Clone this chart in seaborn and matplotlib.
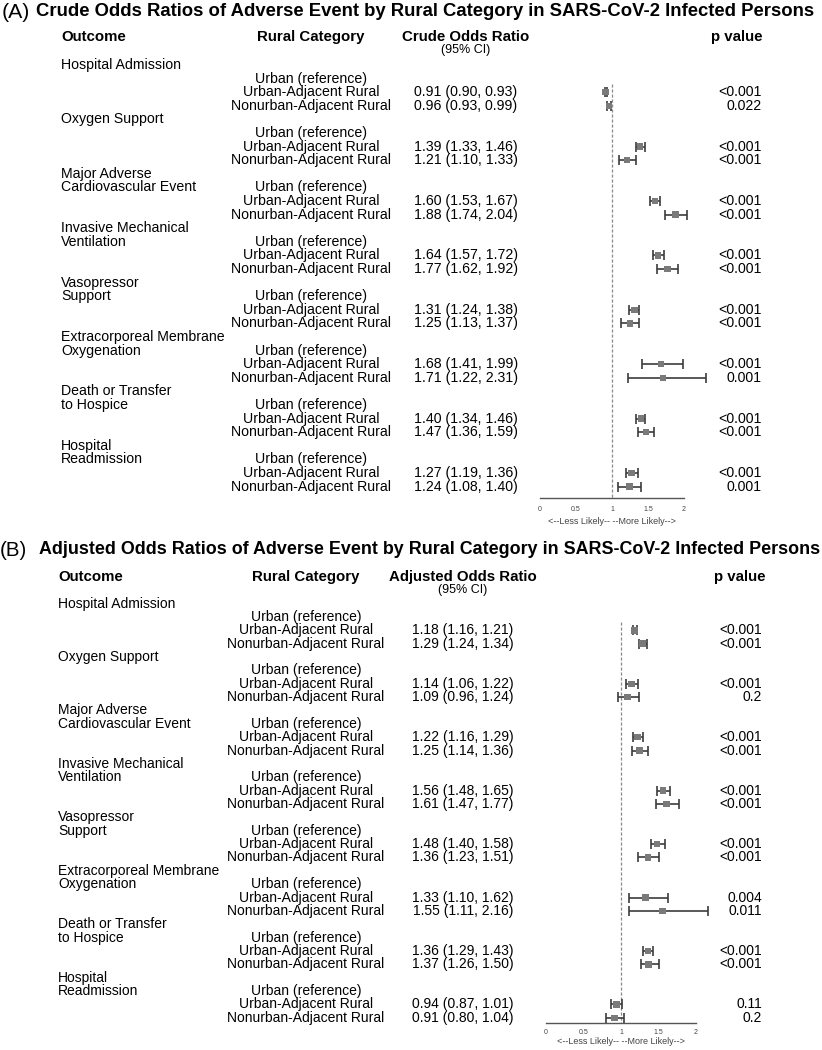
import matplotlib
matplotlib.use("Agg")
import matplotlib.pyplot as plt
import matplotlib.transforms as mtransforms
from matplotlib import font_manager
import pandas as pd
import seaborn as sns

# data
outcomes = [
    "Hospital Admission",
    "Oxygen Support",
    "Major Adverse\nCardiovascular Event",
    "Invasive Mechanical\nVentilation",
    "Vasopressor\nSupport",
    "Extracorporeal Membrane\nOxygenation",
    "Death or Transfer\nto Hospice",
    "Hospital\nReadmission",
]
categories = ["Urban (reference)", "Urban-Adjacent Rural", "Nonurban-Adjacent Rural"]

# crude odds ratios: Urban-Adjacent Rural / Nonurban-Adjacent Rural
crude_uar = [0.91, 1.39, 1.60, 1.64, 1.31, 1.68, 1.40, 1.27]
crude_uar_lo = [0.90, 1.33, 1.53, 1.57, 1.24, 1.41, 1.34, 1.19]
crude_uar_hi = [0.93, 1.46, 1.67, 1.72, 1.38, 1.99, 1.46, 1.36]
crude_uar_p = ["<0.001", "<0.001", "<0.001", "<0.001", "<0.001", "<0.001", "<0.001", "<0.001"]
crude_nar = [0.96, 1.21, 1.88, 1.77, 1.25, 1.71, 1.47, 1.24]
crude_nar_lo = [0.93, 1.10, 1.74, 1.62, 1.13, 1.22, 1.36, 1.08]
crude_nar_hi = [0.99, 1.33, 2.04, 1.92, 1.37, 2.31, 1.59, 1.40]
crude_nar_p = ["0.022", "<0.001", "<0.001", "<0.001", "<0.001", "0.001", "<0.001", "0.001"]

# adjusted odds ratios
adj_uar = [1.18, 1.14, 1.22, 1.56, 1.48, 1.33, 1.36, 0.94]
adj_uar_lo = [1.16, 1.06, 1.16, 1.48, 1.40, 1.10, 1.29, 0.87]
adj_uar_hi = [1.21, 1.22, 1.29, 1.65, 1.58, 1.62, 1.43, 1.01]
adj_uar_p = ["<0.001", "<0.001", "<0.001", "<0.001", "<0.001", "0.004", "<0.001", "0.11"]
adj_nar = [1.29, 1.09, 1.25, 1.61, 1.36, 1.55, 1.37, 0.91]
adj_nar_lo = [1.24, 0.96, 1.14, 1.47, 1.23, 1.11, 1.26, 0.80]
adj_nar_hi = [1.34, 1.24, 1.36, 1.77, 1.51, 2.16, 1.50, 1.04]
adj_nar_p = ["<0.001", "0.2", "<0.001", "<0.001", "<0.001", "0.011", "<0.001", "0.2"]

xticks = [0, 0.5, 1, 1.5, 2]


def has_font(name):
    try:
        font_manager.findfont(name, fallback_to_default=False)
        return True
    except ValueError:
        return False


sns.set_style("white")
plt.rcParams["font.family"] = ["Liberation Sans", "DejaVu Sans"]
plt.rcParams["text.color"] = "black"
narrow = "Liberation Sans Narrow" if has_font("Liberation Sans Narrow") else "Liberation Sans"

W, H = 822, 1050
fig = plt.figure(figsize=(W / 100, H / 100), dpi=100)
renderer = fig.canvas.get_renderer()


def fx(px):
    return px / W


def fy(px):
    return 1 - px / H


def fit_text(x0, x1, ypx, s, **kw):
    # place text starting at x0 and scale the font so it ends at x1
    t = fig.text(fx(x0), fy(ypx), s, ha="left", va="center", **kw)
    w = t.get_window_extent(renderer).width
    t.set_fontsize(t.get_fontsize() * (x1 - x0) / w)
    return t


def make_df(est, lo, hi, p, n):
    rows = []
    for g in range(n):
        rows.append((4 * g + 2, est[0][g], lo[0][g], hi[0][g], p[0][g]))
        rows.append((4 * g + 3, est[1][g], lo[1][g], hi[1][g], p[1][g]))
    return pd.DataFrame(rows, columns=["row", "est", "lo", "hi", "p"])


def panel(letter, title, or_head, df, lay):
    row0, step, axis_px = lay["row0"], lay["step"], lay["axis"]
    x0px, scale = lay["x0"], lay["scale"]
    xlo, xhi = -0.1, lay["xhi"]
    top_px = row0 - 0.7 * step
    left = x0px + xlo * scale
    right = x0px + xhi * scale
    ax = fig.add_axes([fx(left), fy(axis_px), fx(right - left), (axis_px - top_px) / H])
    ax.set_xlim(xlo, xhi)
    ax.set_ylim((axis_px - row0) / step, (top_px - row0) / step)
    ax.patch.set_alpha(0)

    # title
    t = fit_text(lay["tt"], 818, lay["title"], title, fontsize=15,
                 fontweight="bold", family=[narrow, "DejaVu Sans"])
    fig.text(fx(lay["lt"]), fy(lay["title"]), f"({letter})",
             fontsize=t.get_fontsize() * 1.15, ha="left", va="center")

    # header
    hs = 10.8
    fig.text(fx(lay["out_x"]), fy(lay["head"]), "Outcome", fontsize=hs,
             fontweight="bold", ha="left", va="center")
    fig.text(fx(lay["cat_x"]), fy(lay["head"]), "Rural Category", fontsize=hs,
             fontweight="bold", ha="center", va="center")
    fig.text(fx(lay["or_x"]), fy(lay["head"]), or_head, fontsize=hs,
             fontweight="bold", ha="center", va="center")
    fig.text(fx(lay["or_x"]), fy(lay["head"] + 13.5), "(95% CI)", fontsize=9,
             ha="center", va="center")
    fig.text(fx(lay["p_x"]), fy(lay["head"]), "p value", fontsize=hs,
             fontweight="bold", ha="center", va="center")

    # table rows, y in data rows
    tr = mtransforms.blended_transform_factory(fig.transFigure, ax.transData)
    fs = lay["fs"]
    for g, name in enumerate(outcomes):
        for k, line in enumerate(name.split("\n")):
            ax.text(fx(lay["out_x"]), 4 * g + k, line, transform=tr, fontsize=fs,
                    ha="left", va="center")
        for k, cat in enumerate(categories):
            ax.text(fx(lay["cat_x"]), 4 * g + 1 + k, cat, transform=tr,
                    fontsize=fs, ha="center", va="center")
    for _, r in df.iterrows():
        ax.text(fx(lay["or_x"]), r["row"], f"{r['est']:.2f} ({r['lo']:.2f}, {r['hi']:.2f})",
                transform=tr, fontsize=fs, ha="center", va="center")
        ax.text(fx(762), r["row"], r["p"], transform=tr, fontsize=fs,
                ha="right", va="center")

    # forest plot
    ax.vlines(1, 1.4, ax.get_ylim()[0], color="#8a8a8a", lw=0.9,
              linestyles=(0, (2.5, 1.5)), zorder=1)
    ax.errorbar(df["est"], df["row"], xerr=[df["est"] - df["lo"], df["hi"] - df["est"]],
                fmt="none", ecolor="#3c3c3c", elinewidth=1.2, capsize=3.5,
                capthick=1.2, zorder=2)
    sns.scatterplot(data=df, x="est", y="row", marker="s", s=22, color="#7a7a7a",
                    edgecolor="none", ax=ax, zorder=3, legend=False)
    ax.set_ylim((axis_px - row0) / step, (top_px - row0) / step)

    for side in ["top", "left", "right"]:
        ax.spines[side].set_visible(False)
    ax.spines["bottom"].set_bounds(0, 2)
    ax.spines["bottom"].set_color("#555555")
    ax.spines["bottom"].set_linewidth(1.0)
    ax.set_yticks([])
    ax.set_xticks(xticks)
    ax.set_xticklabels([f"{t:g}" for t in xticks])
    ax.tick_params(axis="x", direction="in", length=4, width=1, color="#555555",
                   labelsize=5, labelcolor="#444444", pad=lay["pad"])
    ax.set_xlabel("")
    ax.set_ylabel("")
    bt = mtransforms.blended_transform_factory(ax.transData, fig.transFigure)
    ax.text(1, fy(axis_px + lay["lab"]), "<--Less Likely-- --More Likely-->", transform=bt,
            fontsize=6.5, color="#444444", ha="center", va="center")


crude_df = make_df([crude_uar, crude_nar], [crude_uar_lo, crude_nar_lo],
                   [crude_uar_hi, crude_nar_hi], [crude_uar_p, crude_nar_p], len(outcomes))
adj_df = make_df([adj_uar, adj_nar], [adj_uar_lo, adj_nar_lo],
                 [adj_uar_hi, adj_nar_hi], [adj_uar_p, adj_nar_p], len(outcomes))

lay_a = dict(row0=65, step=13.6, axis=498, x0=540, scale=72, xhi=2.45,
             title=12, lt=2, tt=36, head=37, out_x=61, cat_x=311,
             or_x=466, p_x=737, fs=10.2, pad=6, lab=23)
lay_b = dict(row0=603.6, step=13.36, axis=1023, x0=546, scale=75, xhi=2.3,
             title=550, lt=0, tt=39, head=577, out_x=58, cat_x=306,
             or_x=463, p_x=740, fs=10.0, pad=4, lab=19)

panel("A", "Crude Odds Ratios of Adverse Event by Rural Category in SARS-CoV-2 Infected Persons",
      "Crude Odds Ratio", crude_df, lay_a)
panel("B", "Adjusted Odds Ratios of Adverse Event by Rural Category in SARS-CoV-2 Infected Persons",
      "Adjusted Odds Ratio", adj_df, lay_b)

fig.savefig("out.png", dpi=100)
